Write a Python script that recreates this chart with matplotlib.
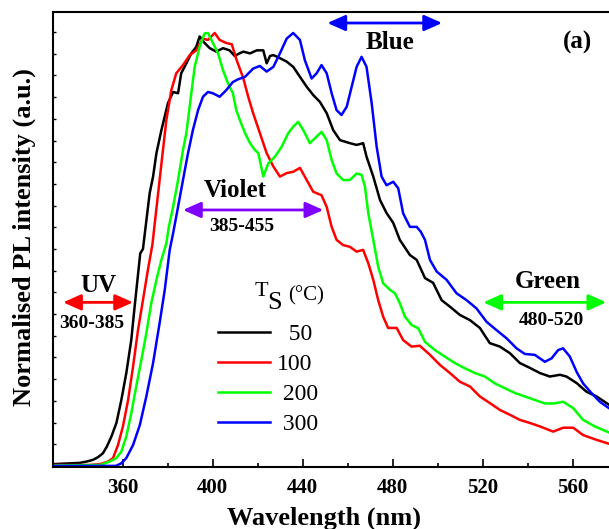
import matplotlib
matplotlib.use('Agg')
import matplotlib.pyplot as plt
from matplotlib.ticker import MultipleLocator

plt.rcParams['font.family'] = ['Liberation Serif', 'DejaVu Serif']

# Ts = 50 C
wl_50 = [329, 333, 337, 341, 344, 346.8, 349, 351.2, 353, 355, 357.2, 359.4, 361.6, 363.8, 365.3,
         367.8, 369, 372, 373.5, 375, 377.2, 380.1, 382.4, 384.6, 386, 388.3, 390.5, 392.7, 394.2,
         396.4, 398.7, 401.6, 404.6, 407.5, 409.8, 411.5, 413.6, 416.6, 419.6, 422.5, 424, 425.5,
         427, 429.9, 432.9, 435.8, 438.8, 441.8, 444.7, 447.7, 450.7, 453.6, 456.6, 461, 464,
         466.9, 468.4, 471.4, 474.4, 477.3, 480.3, 483.2, 487.7, 490.7, 494.4, 498, 501.8, 505.5,
         509.9, 514.4, 518.8, 523.2, 527.7, 532.1, 536.6, 541, 545.5, 549.9, 554.4, 557.3, 561.8,
         566.2, 570.7, 576.2, 580]
pl_50 = [0.004, 0.005, 0.006, 0.007, 0.010, 0.014, 0.020, 0.029, 0.045, 0.068, 0.099, 0.152, 0.214,
         0.290, 0.367, 0.490, 0.500, 0.629, 0.667, 0.721, 0.774, 0.836, 0.862, 0.859, 0.905, 0.928,
         0.951, 0.966, 0.990, 0.975, 0.963, 0.955, 0.963, 0.958, 0.945, 0.950, 0.955, 0.951, 0.958,
         0.958, 0.928, 0.945, 0.947, 0.940, 0.932, 0.920, 0.897, 0.874, 0.855, 0.839, 0.813, 0.774,
         0.751, 0.744, 0.740, 0.744, 0.713, 0.667, 0.613, 0.583, 0.560, 0.521, 0.486, 0.475, 0.433,
         0.422, 0.382, 0.367, 0.348, 0.336, 0.318, 0.283, 0.275, 0.260, 0.237, 0.226, 0.214, 0.206,
         0.210, 0.206, 0.191, 0.171, 0.160, 0.141, 0.130]

# Ts = 100 C
wl_100 = [329, 345, 350, 353.5, 355.7, 357.9, 360.1, 362.4, 364.6, 366.8, 369, 371.2, 373.2, 376.4,
          379.4, 381.6, 383.8, 386.8, 389.8, 392.7, 395.7, 397.9, 400.9, 403.1, 406, 408.5, 410.7,
          413.6, 415.8, 418, 421, 424, 427, 429.9, 432.9, 435.8, 438.8, 441.8, 444.7, 448.4, 450.7,
          452.9, 455.1, 458, 461, 464, 466.9, 469.2, 471.4, 473.6, 475.8, 478, 481.8, 484.7, 488.4,
          492.1, 496.6, 501, 505.5, 509.9, 514.4, 518.8, 523.2, 527.7, 532.1, 536.6, 541, 545.5,
          551.4, 555.8, 560.3, 564.7, 570.7, 576.2, 580]
pl_100 = [0.002, 0.002, 0.004, 0.010, 0.018, 0.048, 0.091, 0.152, 0.229, 0.313, 0.382, 0.452, 0.510,
          0.659, 0.797, 0.866, 0.905, 0.924, 0.947, 0.958, 0.985, 0.982, 0.998, 0.982, 0.975, 0.972,
          0.935, 0.894, 0.851, 0.813, 0.767, 0.721, 0.690, 0.667, 0.675, 0.678, 0.687, 0.659, 0.632,
          0.624, 0.597, 0.551, 0.521, 0.509, 0.505, 0.494, 0.498, 0.467, 0.429, 0.382, 0.344, 0.318,
          0.318, 0.290, 0.275, 0.277, 0.256, 0.233, 0.214, 0.194, 0.183, 0.160, 0.145, 0.129, 0.118,
          0.106, 0.099, 0.091, 0.079, 0.088, 0.088, 0.071, 0.060, 0.051, 0.045]

# Ts = 200 C
wl_200 = [329, 350, 354.2, 357.2, 359.4, 361.6, 363.8, 366, 368.3, 370.5, 372.7, 375, 377.2, 379.4,
          380.5, 382.4, 384.6, 386.8, 388.3, 390.5, 392, 394.2, 396.4, 397.9, 400.1, 402.4, 404.6,
          406.8, 409, 410.5, 412.1, 414.4, 416.6, 418.8, 420.3, 422.5, 424.7, 427.7, 430.7, 433.6,
          435.8, 438, 440.3, 443.2, 446.2, 448.4, 450.7, 452.9, 455.1, 458, 461, 464, 466.2, 467.7,
          469.2, 471.4, 473.6, 475.8, 478.8, 481, 483.2, 485.5, 488.4, 491.4, 494.4, 498.8, 503.2,
          507.7, 512.1, 516.6, 521, 525.5, 529.9, 534.4, 538.8, 543.2, 547.7, 552.1, 555.8, 560.3,
          564.7, 569.9, 576.2, 580]
pl_200 = [0.001, 0.002, 0.010, 0.018, 0.033, 0.068, 0.121, 0.183, 0.244, 0.306, 0.375, 0.429, 0.475,
          0.513, 0.551, 0.597, 0.659, 0.728, 0.767, 0.859, 0.920, 0.966, 0.997, 0.998, 0.975, 0.951,
          0.912, 0.882, 0.859, 0.820, 0.797, 0.767, 0.744, 0.728, 0.721, 0.667, 0.697, 0.713, 0.736,
          0.767, 0.782, 0.793, 0.774, 0.744, 0.759, 0.770, 0.751, 0.705, 0.674, 0.659, 0.659, 0.674,
          0.671, 0.644, 0.582, 0.521, 0.459, 0.421, 0.406, 0.398, 0.375, 0.344, 0.325, 0.317, 0.286,
          0.267, 0.252, 0.237, 0.225, 0.214, 0.206, 0.190, 0.179, 0.168, 0.160, 0.152, 0.144, 0.144,
          0.148, 0.133, 0.106, 0.091, 0.077, 0.070]

# Ts = 300 C
wl_300 = [329, 357, 359.4, 361.6, 364.6, 367.6, 370.5, 373.5, 376.4, 378.7, 380.9, 382.4, 384.6,
          386.8, 389, 391.2, 393.5, 395.7, 397.9, 400.1, 403.1, 406, 409, 411.2, 414.4, 418, 421,
          424, 427, 429.9, 432.9, 435.8, 438.8, 441, 444, 446.2, 448.4, 450.7, 452.9, 455.1, 457.3,
          459.6, 461.8, 464, 466.2, 468.4, 470.7, 472.9, 475.1, 477.3, 480.3, 482.5, 484.7, 487.7,
          490.7, 492.5, 494.4, 496.6, 499.6, 504, 508.4, 512.9, 517.3, 521.8, 526.2, 530.7, 535.1,
          538.8, 543.2, 547.7, 550.7, 553.6, 555.8, 558.8, 561.8, 564.7, 568.4, 572.1, 576.2, 580]
pl_300 = [0.0, 0.0, 0.006, 0.018, 0.048, 0.094, 0.160, 0.237, 0.329, 0.406, 0.498, 0.536, 0.597,
          0.659, 0.720, 0.774, 0.820, 0.851, 0.862, 0.859, 0.851, 0.866, 0.885, 0.891, 0.897, 0.916,
          0.922, 0.909, 0.920, 0.951, 0.985, 0.998, 0.982, 0.935, 0.893, 0.905, 0.924, 0.905, 0.859,
          0.820, 0.809, 0.828, 0.874, 0.920, 0.943, 0.920, 0.836, 0.736, 0.667, 0.647, 0.655, 0.640,
          0.582, 0.551, 0.551, 0.540, 0.521, 0.475, 0.448, 0.429, 0.398, 0.382, 0.363, 0.332, 0.313,
          0.294, 0.271, 0.258, 0.256, 0.240, 0.248, 0.267, 0.271, 0.252, 0.217, 0.190, 0.168, 0.148,
          0.133, 0.125]

labels = ['  50', '100', ' 200', ' 300']
colors = ['black', '#ff0000', '#00ff00', '#0000ff']

fig = plt.figure(figsize=(6.09, 5.29), dpi=100)
ax = fig.add_axes([0.087, 0.118, 0.927, 0.859])

for wl, pl, lab, c in zip([wl_50, wl_100, wl_200, wl_300], [pl_50, pl_100, pl_200, pl_300], labels, colors):
    ax.plot(wl, pl, color=c, lw=1.8, label=lab)

ax.set_xlim(329, 580)
ax.set_ylim(-0.0016, 1.046)
ax.xaxis.set_major_locator(MultipleLocator(40))
ax.xaxis.set_minor_locator(MultipleLocator(20))
ax.yaxis.set_major_locator(MultipleLocator(0.05))
ax.tick_params(axis='x', which='major', direction='in', length=6, width=1.2, labelsize=15, pad=8)
ax.tick_params(axis='x', which='minor', direction='in', length=3, width=1.2)
ax.tick_params(axis='y', which='major', direction='in', length=2.5, width=1, labelleft=False)
for lbl in ax.get_xticklabels():
    lbl.set_fontweight('bold')
for s in ['left', 'bottom', 'top']:
    ax.spines[s].set_linewidth(1.5)
ax.spines['right'].set_visible(False)

ax.set_xlabel('Wavelength (nm)', fontsize=19, fontweight='bold')
ax.xaxis.set_label_coords(0.48, -0.088)
ax.set_ylabel('Normalised PL intensity (a.u.)', fontsize=19, fontweight='bold')
ax.yaxis.set_label_coords(-0.030, 0.506)

# band arrows
def band(x0, x1, y, c):
    ax.annotate('', xy=(x1, y), xytext=(x0, y),
                arrowprops=dict(arrowstyle='<|-|>,head_length=0.9,head_width=0.4', color=c, lw=2,
                                shrinkA=0, shrinkB=0, mutation_scale=12))

band(451, 502, 1.021, '#0000ff')
band(386.8, 449.2, 0.590, '#8000ff')
band(333.5, 364.6, 0.377, '#ff0000')
band(520.3, 575, 0.377, '#00ff00')

tb = dict(fontweight='bold', ha='center', va='center')
ax.text(479, 0.977, 'Blue', fontsize=18, **tb)
ax.text(562, 0.977, '(a)', fontsize=18, **tb)
ax.text(410.2, 0.636, 'Violet', fontsize=18, **tb)
ax.text(412.9, 0.551, '385-455', fontsize=14, **tb)
ax.text(349, 0.417, 'UV', fontsize=18, **tb)
ax.text(346.4, 0.329, '360-385', fontsize=14, **tb)
ax.text(548.8, 0.424, 'Green', fontsize=18, **tb)
ax.text(550.8, 0.336, '480-520', fontsize=14, **tb)

# legend title T_S (°C)
ax.text(421.5, 0.403, 'T', fontsize=16, ha='center', va='center')
ax.text(427.5, 0.376, 'S', fontsize=19, ha='center', va='center')
ax.text(441.3, 0.392, '(°C)', fontsize=15, ha='center', va='center')

ax.legend(loc='upper left', bbox_to_anchor=(0.292, 0.314), frameon=False, fontsize=17,
          handlelength=2.2, handletextpad=0.3, labelspacing=0.35, borderpad=0, borderaxespad=0)

fig.savefig('out.png', dpi=100)
